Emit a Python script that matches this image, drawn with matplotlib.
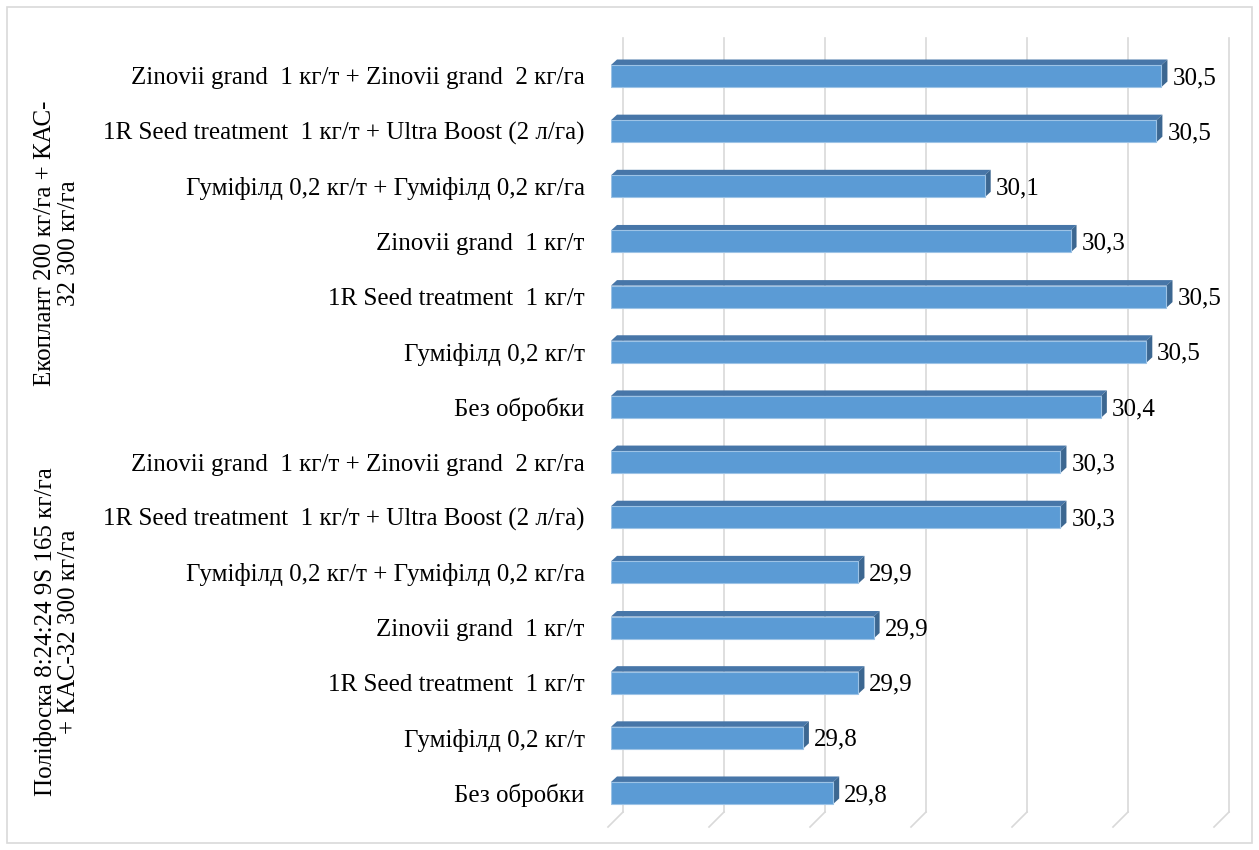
import matplotlib
matplotlib.use('Agg')
import matplotlib.pyplot as plt
from matplotlib.patches import Polygon, Rectangle
from matplotlib.transforms import ScaledTranslation

plt.rcParams['font.family'] = ['Liberation Serif', 'DejaVu Serif']

# rows from top to bottom
labels = ["Zinovii grand  1 кг/т + Zinovii grand  2 кг/га",
          "1R Seed treatment  1 кг/т + Ultra Boost (2 л/га)",
          "Гуміфілд 0,2 кг/т + Гуміфілд 0,2 кг/га",
          "Zinovii grand  1 кг/т",
          "1R Seed treatment  1 кг/т",
          "Гуміфілд 0,2 кг/т",
          "Без обробки",
          "Zinovii grand  1 кг/т + Zinovii grand  2 кг/га",
          "1R Seed treatment  1 кг/т + Ultra Boost (2 л/га)",
          "Гуміфілд 0,2 кг/т + Гуміфілд 0,2 кг/га",
          "Zinovii grand  1 кг/т",
          "1R Seed treatment  1 кг/т",
          "Гуміфілд 0,2 кг/т",
          "Без обробки"]
values = [30.49, 30.48, 30.14, 30.31, 30.50, 30.46, 30.37,
          30.29, 30.29, 29.89, 29.92, 29.89, 29.78, 29.84]
groups = ["Екоплант 200 кг/га + КАС-\n32 300 кг/га",
          "Поліфоска 8:24:24 9S 165 кг/га\n+ КАС-32 300 кг/га"]
grid_vals = [29.4, 29.6, 29.8, 30.0, 30.2, 30.4, 30.6]

W, H = 1259, 850
FS = 18
fig = plt.figure(figsize=(W / 100, H / 100), dpi=100)
ax = fig.add_axes([611 / W, 38 / H, (1217 - 611) / W, (812 - 38) / H])
ax.set_xlim(29.4, 30.6)
ax.set_ylim(13.345, -0.689)

# pixels per data unit
kx = (1217 - 611) / 1.2
ky = (793 - 76) / 13.0
ax_h = 812 - 38

# back wall gridlines + slanted floor marks
shift = ScaledTranslation(0.12, 0, fig.dpi_scale_trans)
gtrans = ax.get_xaxis_transform() + shift
for g in grid_vals:
    ax.plot([g, g], [0, 1], color='#D9D9D9', lw=1.2, transform=gtrans,
            clip_on=False, zorder=0)
    ax.plot([g, g - 15 / kx], [0, -15 / ax_h], color='#D9D9D9', lw=1.2,
            transform=gtrans, clip_on=False, zorder=0)

# 3d-ish bars
h = 22 / ky
dx = 6 / kx
dy = 5.5 / ky
x0 = grid_vals[0]
rows = list(range(len(values)))
ax.barh(rows, [v - x0 for v in values], left=x0, height=h,
        color='#5B9BD5', edgecolor='#9DC3E6', linewidth=0.8, zorder=3)
for i, v in enumerate(values):
    top = i - h / 2
    bot = i + h / 2
    ax.add_patch(Polygon([(x0, top), (v, top), (v + dx, top - dy), (x0 + dx, top - dy)],
                         closed=True, facecolor='#4776A8', edgecolor='none', zorder=2))
    ax.add_patch(Polygon([(v, top), (v + dx, top - dy), (v + dx, bot - dy), (v, bot)],
                         closed=True, facecolor='#3C6791', edgecolor='none', zorder=2))
    ax.annotate(f"{v:.1f}".replace('.', ','), (v + dx, i), xytext=(3.5, -1.5),
                textcoords='offset points', ha='left', va='center', fontsize=FS)

ax.set_yticks(rows)
ax.set_yticklabels(labels, fontsize=FS)
ax.tick_params(axis='y', length=0, pad=19)
ax.set_xticks([])
for s in ax.spines.values():
    s.set_visible(False)

# group labels
fig.text(57 / W, 1 - 243 / H, groups[0], rotation=90, ha='center', va='center',
         multialignment='center', fontsize=FS, linespacing=1.1)
fig.text(57 / W, 1 - 632 / H, groups[1], rotation=90, ha='center', va='center',
         multialignment='center', fontsize=FS, linespacing=1.1)

# outer frame
fig.patches.append(Rectangle((7 / W, 7 / H), (1252 - 7) / W, (843 - 7) / H,
                             transform=fig.transFigure, fill=False,
                             edgecolor='#D9D9D9', lw=1.2))

fig.savefig('out.png', dpi=100)
